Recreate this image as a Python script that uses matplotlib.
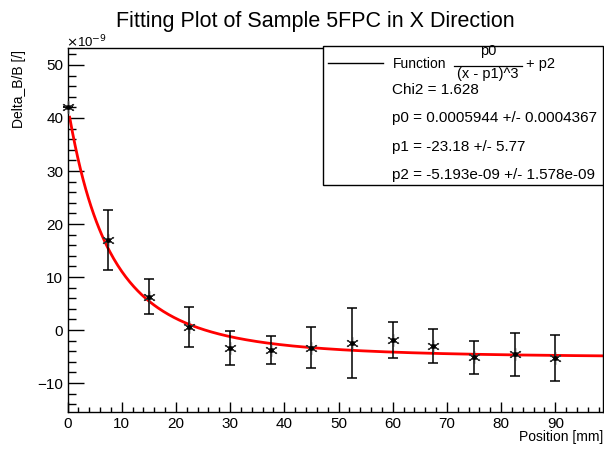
import numpy as np
import matplotlib
matplotlib.use("Agg")
import matplotlib.pyplot as plt
from matplotlib.patches import Rectangle
from matplotlib.ticker import MultipleLocator

# ---- data (units of 1e-9) ----
positions = [0, 7.5, 15, 22.5, 30, 37.5, 45, 52.5, 60, 67.5, 75, 82.5, 90]
delta_b = [42.1, 17.0, 6.3, 0.6, -3.3, -3.8, -3.3, -2.4, -1.9, -3.0, -5.1, -4.6, -5.3]
errors = [0.0, 5.6, 3.3, 3.8, 3.2, 2.6, 3.8, 6.6, 3.4, 3.2, 3.1, 4.1, 4.4]

# ---- fit parameters ----
p0 = 0.0005944
p1 = -23.18
p2 = -5.193e-09
chi2 = 1.628
fit_start, fit_end = 0.4, 98.8

title = "Fitting Plot of Sample 5FPC in X Direction"
xlabel = "Position [mm]"
ylabel = "Delta_B/B [/]"

plt.rcParams['font.family'] = ['Liberation Sans', 'DejaVu Sans']

W, H = 604, 450
fig = plt.figure(figsize=(W / 100, H / 100), dpi=100)

def P(x, y):
    return (x / W, 1 - y / H)

L, R, T, B = 67.5, 603, 48, 411.7
ax = fig.add_axes([L / W, 1 - B / H, (R - L) / W, (B - T) / H])
ax.set_xlim(0, 98.8)
ax.set_ylim(-15.4, 53.2)

xf = np.linspace(fit_start, fit_end, 400)
yf = (p0 / (xf - p1) ** 3 + p2) * 1e9
ax.plot(xf, yf, color='red', lw=2, zorder=2)

ax.errorbar(positions, delta_b, yerr=errors, fmt='none', ecolor='black',
            elinewidth=1.1, capsize=3.5, capthick=1.1, zorder=3, clip_on=False)
ax.plot(positions, delta_b, linestyle='none', marker=(6, 2, 0), markersize=9,
        markeredgewidth=0.9, color='#333333', zorder=4, clip_on=False)
ax.plot(positions, delta_b, linestyle='none', marker='o', markersize=2.5,
        color='black', zorder=5, clip_on=False)

ax.xaxis.set_major_locator(MultipleLocator(10))
ax.xaxis.set_minor_locator(MultipleLocator(2))
ax.yaxis.set_major_locator(MultipleLocator(10))
ax.yaxis.set_minor_locator(MultipleLocator(2))
ax.tick_params(axis='both', which='both', direction='in', top=False, right=False,
               labelsize=11, color='black', width=1)
ax.tick_params(axis='x', which='major', length=7.2, pad=4)
ax.tick_params(axis='x', which='minor', length=3.6)
ax.tick_params(axis='y', which='major', length=11.5, pad=3)
ax.tick_params(axis='y', which='minor', length=5.5)
for s in ax.spines.values():
    s.set_linewidth(1)
ax.set_xticks(range(0, 91, 10))
ax.set_xticklabels([str(v) for v in range(0, 91, 10)])
ax.set_yticks(range(-10, 51, 10))
ax.set_yticklabels([("\u2212" + str(-v)) if v < 0 else str(v) for v in range(-10, 51, 10)])

fig.text(*P(315, 21), title, ha='center', va='center', fontsize=15.5)
fig.text(*P(603, 437), xlabel, ha='right', va='center', fontsize=10)
fig.text(*P(19, 50), ylabel, ha='center', va='top', rotation=90, fontsize=10)
fig.text(*P(66, 42), r"$\times$10$^{-9}$", ha='left', va='center', fontsize=9.5)

# stats box
bx0, by0, bx1, by1 = 323, 46, 603, 185
fig.add_artist(Rectangle(P(bx0, by1), (bx1 - bx0) / W, (by1 - by0) / H,
                         transform=fig.transFigure, facecolor='white',
                         edgecolor='black', lw=1, zorder=10))
fig.add_artist(plt.Line2D([328 / W, 383 / W], [1 - 63.3 / H] * 2,
                          transform=fig.transFigure, color='black', lw=1, zorder=11))
fig.text(*P(392.5, 64.3), "Function", ha='left', va='center', fontsize=10, zorder=11)
fig.text(*P(488, 51.5), "p0", ha='center', va='center', fontsize=10.5, zorder=11)
fig.add_artist(plt.Line2D([454 / W, 522 / W], [1 - 65.5 / H] * 2,
                          transform=fig.transFigure, color='black', lw=0.9, zorder=11))
fig.text(*P(488, 74), "(x - p1)^3", ha='center', va='center', fontsize=10.5, zorder=11)
fig.text(*P(525.7, 64.3), "+ p2", ha='left', va='center', fontsize=10.5, zorder=11)
lines = [f"Chi2 = {chi2}",
         f"p0 = {p0:.7f} +/- 0.0004367",
         f"p1 = {p1} +/- 5.77",
         "p2 = -5.193e-09 +/- 1.578e-09"]
for i, s in enumerate(lines):
    fig.text(*P(392.5, 89.5 + 28.5 * i), s, ha='left', va='center', fontsize=11, zorder=11)

fig.savefig("out.png", dpi=100)
